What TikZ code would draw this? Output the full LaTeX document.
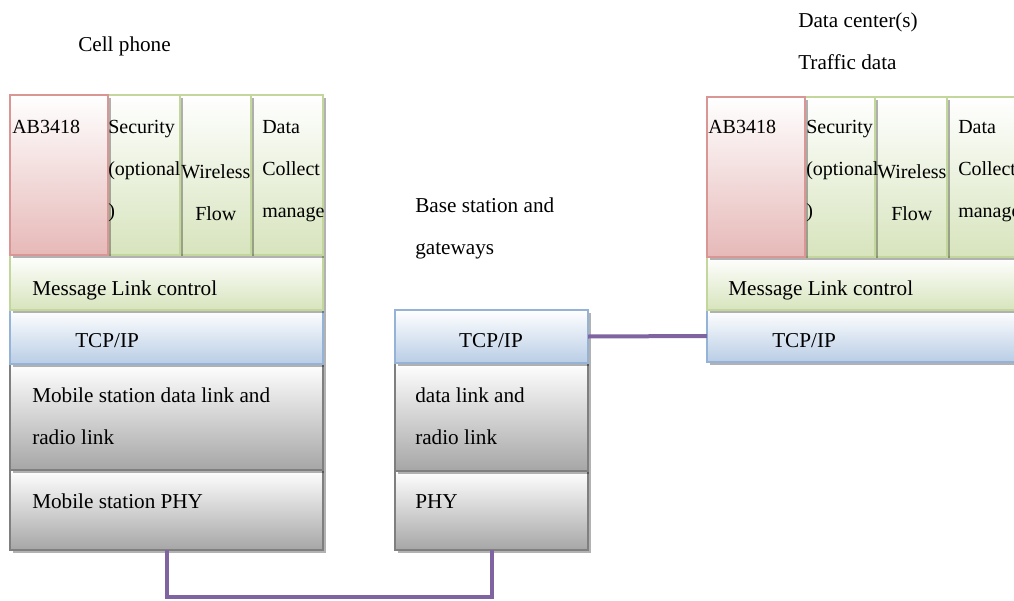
\documentclass[tikz,border=0pt]{standalone}
\usepackage{fontspec}
\setmainfont{Liberation Serif}
\usetikzlibrary{positioning, shadows}
\definecolor{greenline}{RGB}{195,214,155}
\definecolor{greenfill}{RGB}{215,228,189}
\definecolor{redline}{RGB}{217,150,148}
\definecolor{redfill}{RGB}{230,185,184}
\definecolor{blueline}{RGB}{149,179,215}
\definecolor{bluefill}{RGB}{185,205,229}
\definecolor{grayline}{RGB}{127,127,127}
\definecolor{grayfill}{RGB}{166,166,166}
\definecolor{linkpurple}{RGB}{128,100,162}
\newcommand{\pxu}{0.75pt}

\begin{document}
\begin{tikzpicture}[x=0.75pt, y=-0.75pt,
    box/.style={draw, rectangle, line width=1.5pt, inner sep=0pt, outer sep=0pt, anchor=north west,
        drop shadow={shadow xshift=2.5pt, shadow yshift=-2.5pt, fill=black, opacity=0.3}},
    greenbox/.style={box, draw=greenline, top color=white, bottom color=greenfill},
    redbox/.style={box, draw=redline, top color=white, bottom color=redfill},
    bluebox/.style={box, draw=blueline, top color=white, bottom color=bluefill},
    graybox/.style={box, draw=grayline, top color=white, bottom color=grayfill},
    txt/.style={anchor=north west, inner sep=0pt, align=left, font=\fontsize{15.9}{31.5}\selectfont},
    coltxt/.style={txt, font=\fontsize{15}{31.5}\selectfont},
    wire/.style={draw=linkpurple, line width=3pt}]
    \useasboundingbox (0,0) rectangle (1014,600);
    \clip (0,0) rectangle (1014,600);

    % cell phone
    \node (cpphy) [graybox, minimum width=313*\pxu, minimum height=80*\pxu] at (10,470) {};
    \node (cplink) [graybox, minimum width=313*\pxu, minimum height=106*\pxu] at (10,364) {};
    \node (cptcp) [bluebox, minimum width=313*\pxu, minimum height=54*\pxu] at (10,310) {};
    \node (cpmsg) [greenbox, minimum width=313*\pxu, minimum height=55*\pxu] at (10,255) {};
    \node (cpdat) [greenbox, minimum width=72*\pxu, minimum height=160*\pxu] at (251,95) {};
    \node (cpwls) [greenbox, minimum width=71*\pxu, minimum height=160*\pxu] at (180,95) {};
    \node (cpsec) [greenbox, minimum width=72*\pxu, minimum height=160*\pxu] at (108,95) {};
    \node (cpab) [redbox, minimum width=98*\pxu, minimum height=160*\pxu] at (10,95) {};

    % base station
    \node (bsphy) [graybox, minimum width=193*\pxu, minimum height=79*\pxu] at (395,471) {};
    \node (bslink) [graybox, minimum width=193*\pxu, minimum height=108*\pxu] at (395,363) {};
    \node (bstcp) [bluebox, minimum width=193*\pxu, minimum height=53*\pxu] at (395,310) {};

    % data center
    \node (dctcp) [bluebox, minimum width=320*\pxu, minimum height=52*\pxu] at (707,310) {};
    \node (dcmsg) [greenbox, minimum width=320*\pxu, minimum height=53*\pxu] at (707,257) {};
    \node (dcdat) [greenbox, minimum width=80*\pxu, minimum height=160*\pxu] at (947,97) {};
    \node (dcwls) [greenbox, minimum width=72*\pxu, minimum height=160*\pxu] at (875,97) {};
    \node (dcsec) [greenbox, minimum width=70*\pxu, minimum height=160*\pxu] at (805,97) {};
    \node (dcab) [redbox, minimum width=98*\pxu, minimum height=160*\pxu] at (707,97) {};

    \node (cptitle) [txt] at (78,37) {Cell phone};
    \node (cpabt) [coltxt] at (12,120) {AB3418};
    \node (cpsect) [coltxt] at (108,120) {Security\\(optional\\)};
    \node (cpwlst) [coltxt, align=center] at (181,164) {Wireless\\Flow};
    \node (cpdatt) [coltxt] at (262,120) {Data\\Collect\\manage};
    \node (cpmsgt) [txt] at (32,281) {Message Link control};
    \node (cptcpt) [txt] at (75,333) {TCP/IP};
    \node (cplinkt) [txt] at (32,388) {Mobile station data link and\\radio link};
    \node (cpphyt) [txt] at (32,494) {Mobile station PHY};

    \node (bstitle) [txt] at (415,198) {Base station and\\gateways};
    \node (bstcpt) [txt, anchor=north] at (491,333) {TCP/IP};
    \node (bslinkt) [txt] at (415,388) {data link and\\radio link};
    \node (bsphyt) [txt] at (415,494) {PHY};

    \node (dctitle) [txt] at (798,13) {Data center(s)\\Traffic data};
    \node (dcabt) [coltxt] at (708,120) {AB3418};
    \node (dcsect) [coltxt] at (806,120) {Security\\(optional\\)};
    \node (dcwlst) [coltxt, align=center] at (877,164) {Wireless\\Flow};
    \node (dcdatt) [coltxt] at (958,120) {Data\\Collect\\manage};
    \node (dcmsgt) [txt] at (728,281) {Message Link control};
    \node (dctcpt) [txt] at (772,333) {TCP/IP};

    \draw[wire] (cpphy.south) -- ++(0,47) -| (bsphy.south);
    \draw[wire] (bstcp.east) -- (dctcp.west);
\end{tikzpicture}
\end{document}
